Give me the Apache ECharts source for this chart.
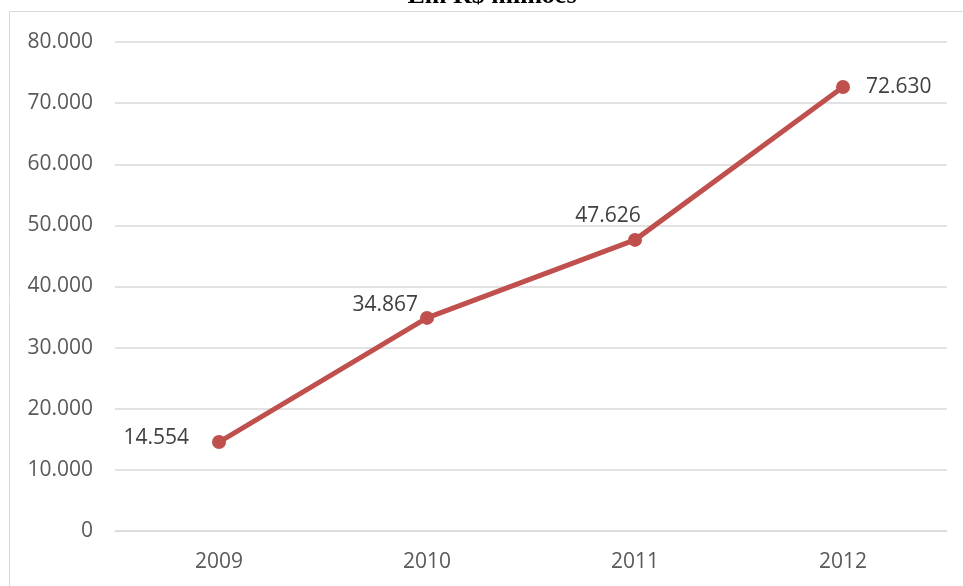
<!DOCTYPE html>
<html>
<head>
<meta charset="utf-8">
<script src="https://cdn.jsdelivr.net/npm/echarts@6/dist/echarts.min.js"></script>
<style>html,body{margin:0;padding:0;background:#fff;}#c{width:963px;height:586px;}</style>
</head>
<body>
<div id="c"></div>
<script>
const titleText = 'Em R$ milhões';
const categories = ['2009', '2010', '2011', '2012'];
const values = [14554, 34867, 47626, 72630];
const yTicks = [0, 10000, 20000, 30000, 40000, 50000, 60000, 70000, 80000];

function fmt(v) {
  return String(Math.round(v)).replace(/\B(?=(\d{3})+(?!\d))/g, '.');
}
const labelOffsets = [[-15, -4], [6, -13], [-27, 2], [8, 0]];
const labelPositions = ['left', 'left', 'top', 'right'];

const chart = echarts.init(document.getElementById('c'), null, {renderer: 'canvas'});
chart.setOption({
  animation: false,
  backgroundColor: '#ffffff',
  graphic: [
    {type: 'rect', shape: {x: 9.5, y: 11.5, width: 980, height: 600}, style: {fill: 'none', stroke: '#d9d9d9', lineWidth: 1}, silent: true},
    {type: 'text', x: 492, y: 9, style: {text: titleText, font: 'bold 26px "Liberation Serif"', fill: '#000', textAlign: 'center', textVerticalAlign: 'bottom'}, silent: true}
  ],
  grid: {left: 115, right: 16, top: 42, bottom: 55},
  xAxis: {
    type: 'category',
    data: categories,
    boundaryGap: true,
    axisLine: {show: true, lineStyle: {color: '#d9d9d9', width: 1}},
    axisTick: {show: false},
    axisLabel: {color: '#595959', fontFamily: 'Open Sans', fontSize: 21, margin: 21}
  },
  yAxis: {
    type: 'value',
    min: 0, max: 80000, interval: 10000,
    axisLine: {show: false},
    axisTick: {show: false},
    splitLine: {lineStyle: {color: '#d9d9d9', width: 1.5}},
    axisLabel: {color: '#595959', fontFamily: 'Open Sans', fontSize: 21, margin: 22, formatter: v => fmt(v)}
  },
  series: [{
    type: 'line',
    data: values.map((v, i) => ({
      value: v,
      label: {position: labelPositions[i], offset: labelOffsets[i]}
    })),
    symbol: 'circle',
    symbolSize: 14,
    lineStyle: {color: '#C0504D', width: 5},
    itemStyle: {color: '#C0504D'},
    label: {show: true, color: '#404040', fontFamily: 'Open Sans', fontSize: 21, distance: 8, formatter: p => fmt(p.value)}
  }]
});
</script>
</body>
</html>
